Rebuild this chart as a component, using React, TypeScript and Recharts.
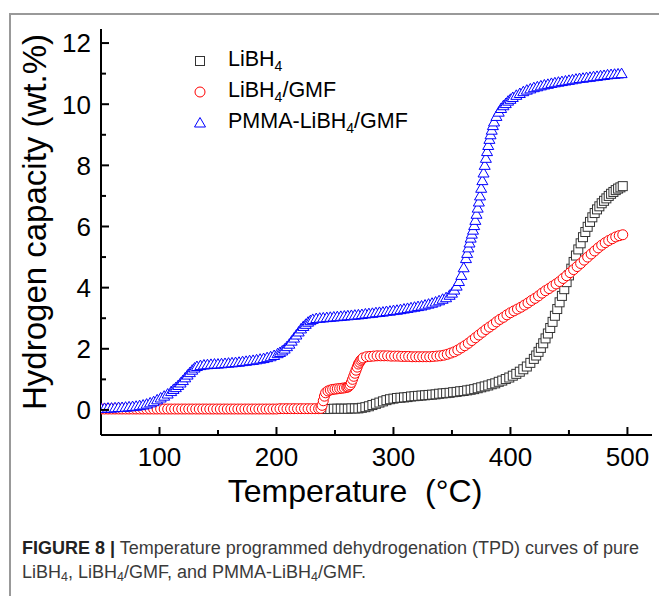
import React from 'react';
import { ScatterChart, Scatter, XAxis, YAxis } from 'recharts';

const FONT = '"Liberation Sans", Arial, Helvetica, sans-serif';

// Axis ticks
const xTicks = [100, 150, 200, 250, 300, 350, 400, 450, 500];
const xLabeled = [100, 200, 300, 400, 500];
const yTicks = [0, 1, 2, 3, 4, 5, 6, 7, 8, 9, 10, 11, 12];
const yLabeled = [0, 2, 4, 6, 8, 10, 12];

// Series names
const seriesNames = ['LiBH4', 'LiBH4/GMF', 'PMMA-LiBH4/GMF'];

// LiBH4 (black squares): [temperature °C, wt.%]
const libhPairs: [number, number][] = [
  [240, 0.03], [243, 0.03], [246, 0.03], [249, 0.04], [252, 0.04], [255, 0.04], [258, 0.04], [261, 0.04],
  [264, 0.05], [267, 0.05], [270, 0.05], [273, 0.07], [276, 0.09], [279, 0.12], [282, 0.16], [285, 0.2],
  [288, 0.24], [291, 0.28], [294, 0.32], [297, 0.35], [300, 0.37], [303, 0.39], [306, 0.4], [309, 0.41],
  [312, 0.42], [315, 0.44], [318, 0.45], [321, 0.46], [324, 0.47], [327, 0.48], [330, 0.49], [333, 0.5],
  [336, 0.51], [339, 0.53], [342, 0.54], [345, 0.55], [348, 0.56], [351, 0.58], [354, 0.59], [357, 0.61],
  [360, 0.62], [363, 0.64], [366, 0.66], [369, 0.68], [372, 0.71], [375, 0.74], [378, 0.77], [381, 0.8],
  [384, 0.84], [387, 0.87], [390, 0.92], [393, 0.96], [396, 1.01], [399, 1.06], [402, 1.12], [405, 1.18],
  [408, 1.25], [411, 1.33], [414, 1.42], [417, 1.54], [420, 1.67], [422, 1.78], [424, 1.9], [426, 2.03],
  [428, 2.18], [430, 2.34], [432, 2.5], [434, 2.68], [436, 2.88], [438, 3.08], [440, 3.3], [442, 3.52],
  [444, 3.73], [446, 3.95], [448, 4.18], [450, 4.4], [452, 4.62], [454, 4.84], [456, 5.05], [458, 5.25],
  [460, 5.45], [462, 5.65], [464, 5.82], [466, 5.99], [468, 6.15], [470, 6.3], [472, 6.44], [474, 6.56],
  [476, 6.66], [478, 6.76], [480, 6.84], [482, 6.92], [484, 7.0], [486, 7.07], [488, 7.13], [490, 7.19],
  [492, 7.24], [494, 7.28], [496, 7.32],
];

// LiBH4/GMF (red circles)
const gmfPairs: [number, number][] = [
  [50, 0.03], [53, 0.03], [56, 0.03], [59, 0.03], [62, 0.03], [65, 0.03], [68, 0.03], [71, 0.03],
  [74, 0.03], [77, 0.03], [80, 0.03], [83, 0.03], [86, 0.03], [89, 0.03], [92, 0.03], [95, 0.03],
  [98, 0.03], [101, 0.03], [104, 0.03], [107, 0.03], [110, 0.03], [113, 0.03], [116, 0.03], [119, 0.03],
  [122, 0.03], [125, 0.03], [128, 0.03], [131, 0.03], [134, 0.03], [137, 0.03], [140, 0.03], [143, 0.03],
  [146, 0.03], [149, 0.03], [152, 0.03], [155, 0.03], [158, 0.03], [161, 0.03], [164, 0.03], [167, 0.03],
  [170, 0.03], [173, 0.03], [176, 0.03], [179, 0.03], [182, 0.03], [185, 0.03], [188, 0.03], [191, 0.03],
  [194, 0.03], [197, 0.03], [200, 0.03], [203, 0.04], [206, 0.04], [209, 0.04], [212, 0.04], [215, 0.04],
  [218, 0.04], [221, 0.04], [224, 0.04], [227, 0.04], [230, 0.04], [233, 0.04], [236, 0.04], [238, 0.05],
  [239, 0.15], [240, 0.3], [241, 0.45], [242, 0.56], [244, 0.62], [246, 0.65], [248, 0.67], [250, 0.68],
  [252, 0.69], [254, 0.7], [256, 0.71], [258, 0.72], [260, 0.74], [261, 0.75], [262, 0.78], [263, 0.82],
  [264, 0.9], [265, 1.0], [266, 1.1], [267, 1.2], [268, 1.3], [269, 1.4], [270, 1.5], [271, 1.56],
  [272, 1.62], [273, 1.66], [274, 1.7], [277, 1.74], [280, 1.75], [283, 1.76], [286, 1.77], [289, 1.77],
  [292, 1.77], [295, 1.77], [298, 1.76], [301, 1.76], [304, 1.76], [307, 1.75], [310, 1.75], [313, 1.75],
  [316, 1.74], [319, 1.74], [322, 1.74], [325, 1.74], [328, 1.74], [331, 1.74], [334, 1.75], [337, 1.76],
  [340, 1.77], [343, 1.79], [346, 1.82], [349, 1.86], [352, 1.9], [355, 1.96], [358, 2.03], [361, 2.1],
  [364, 2.18], [367, 2.27], [370, 2.36], [373, 2.45], [376, 2.54], [379, 2.63], [382, 2.71], [385, 2.79],
  [388, 2.88], [391, 2.96], [394, 3.03], [397, 3.11], [400, 3.18], [403, 3.24], [406, 3.3], [409, 3.36],
  [412, 3.43], [415, 3.5], [418, 3.58], [421, 3.65], [424, 3.73], [427, 3.82], [430, 3.9], [433, 3.97],
  [436, 4.05], [439, 4.12], [442, 4.2], [445, 4.3], [448, 4.39], [451, 4.49], [454, 4.59], [457, 4.69],
  [460, 4.79], [463, 4.9], [466, 5.0], [469, 5.1], [472, 5.2], [475, 5.3], [478, 5.39], [481, 5.47],
  [484, 5.54], [487, 5.6], [490, 5.66], [493, 5.7], [496, 5.73],
];

// PMMA-LiBH4/GMF (blue triangles)
const pmmaPairs: [number, number][] = [
  [50, 0.05], [53, 0.05], [56, 0.06], [59, 0.06], [62, 0.07], [65, 0.08], [68, 0.08], [71, 0.09],
  [74, 0.1], [77, 0.11], [80, 0.12], [83, 0.14], [86, 0.16], [89, 0.19], [92, 0.23], [95, 0.27],
  [98, 0.33], [101, 0.39], [104, 0.45], [107, 0.52], [110, 0.6], [112, 0.67], [114, 0.73], [116, 0.8],
  [118, 0.88], [120, 0.96], [122, 1.05], [124, 1.14], [126, 1.22], [128, 1.3], [130, 1.37], [132, 1.42],
  [135, 1.45], [138, 1.47], [141, 1.48], [144, 1.49], [147, 1.5], [150, 1.5], [153, 1.51], [156, 1.52],
  [159, 1.53], [162, 1.54], [165, 1.55], [168, 1.56], [171, 1.58], [174, 1.59], [177, 1.61], [180, 1.62],
  [183, 1.64], [186, 1.66], [189, 1.68], [192, 1.71], [195, 1.74], [198, 1.78], [201, 1.84], [203, 1.88],
  [205, 1.93], [207, 1.99], [209, 2.07], [211, 2.15], [213, 2.25], [215, 2.35], [217, 2.45], [219, 2.55],
  [221, 2.65], [223, 2.73], [225, 2.8], [227, 2.87], [229, 2.92], [231, 2.96], [234, 2.99], [237, 3.0],
  [240, 3.01], [243, 3.02], [246, 3.03], [249, 3.04], [252, 3.05], [255, 3.06], [258, 3.07], [261, 3.08],
  [264, 3.09], [267, 3.1], [270, 3.11], [273, 3.12], [276, 3.14], [279, 3.15], [282, 3.16], [285, 3.18],
  [288, 3.19], [291, 3.2], [294, 3.22], [297, 3.23], [300, 3.25], [303, 3.26], [306, 3.28], [309, 3.3],
  [312, 3.32], [315, 3.34], [318, 3.36], [321, 3.38], [324, 3.4], [327, 3.43], [330, 3.46], [333, 3.49],
  [336, 3.53], [339, 3.57], [342, 3.62], [345, 3.67], [348, 3.75], [350, 3.82], [352, 3.92], [354, 4.05],
  [356, 4.2], [358, 4.4], [360, 4.65], [362, 4.95], [363, 5.12], [364, 5.3], [365, 5.46], [366, 5.62],
  [367, 5.75], [368, 5.88], [369, 6.03], [370, 6.2], [371, 6.4], [372, 6.6], [373, 6.8], [374, 7.0],
  [375, 7.25], [376, 7.5], [377, 7.75], [378, 8.0], [379, 8.23], [380, 8.45], [381, 8.65], [382, 8.85],
  [383, 9.0], [384, 9.15], [385, 9.3], [386, 9.42], [388, 9.6], [390, 9.74], [392, 9.86], [394, 9.95],
  [396, 10.02], [398, 10.1], [400, 10.16], [402, 10.22], [405, 10.29], [408, 10.35], [411, 10.41], [414, 10.46],
  [417, 10.5], [420, 10.54], [423, 10.57], [426, 10.6], [429, 10.63], [432, 10.65], [435, 10.68], [438, 10.7],
  [441, 10.72], [444, 10.74], [447, 10.76], [450, 10.78], [453, 10.8], [456, 10.82], [459, 10.84], [462, 10.85],
  [465, 10.87], [468, 10.88], [471, 10.9], [474, 10.91], [477, 10.93], [480, 10.94], [483, 10.96], [486, 10.97],
  [489, 10.98], [492, 10.99], [495, 11.0],
];

const toPoints = (pairs: [number, number][]) => pairs.map(([t, v]) => ({ t, v }));
const libhData = toPoints(libhPairs);
const gmfData = toPoints(gmfPairs);
const pmmaData = toPoints(pmmaPairs);

const GRAY = '#333333';
const RED = '#ff0000';
const BLUE = '#0000ff';

const SquareShape = (p: any) => (
  <rect x={p.cx - 4.5} y={p.cy - 4.5} width={9} height={9} fill="#fff" stroke={GRAY} strokeWidth={1} />
);
const CircleShape = (p: any) => (
  <circle cx={p.cx} cy={p.cy} r={5} fill="#fff" stroke={RED} strokeWidth={1} />
);
const TriangleShape = (p: any) => (
  <polygon
    points={`${p.cx},${p.cy - 5.5} ${p.cx + 5.5},${p.cy + 4} ${p.cx - 5.5},${p.cy + 4}`}
    fill="#fff"
    stroke={BLUE}
    strokeWidth={1}
  />
);

const XTick = (props: any) => {
  const { x, y, payload } = props;
  const v = payload.value;
  const major = xLabeled.includes(v);
  return (
    <g>
      <line x1={x} x2={x} y1={y} y2={y - (major ? 8 : 5)} stroke="#000" strokeWidth={2} />
      {major && (
        <text x={x} y={y + 31} textAnchor="middle" fontSize={26} fontFamily={FONT} fill="#000">
          {v}
        </text>
      )}
    </g>
  );
};

const YTick = (props: any) => {
  const { x, y, payload } = props;
  const v = payload.value;
  const major = yLabeled.includes(v);
  return (
    <g>
      <line x1={x} x2={x + (major ? 8 : 5)} y1={y} y2={y} stroke="#000" strokeWidth={2} />
      {major && (
        <text x={x - 10} y={y} dy="0.36em" textAnchor="end" fontSize={26} fontFamily={FONT} fill="#000">
          {v}
        </text>
      )}
    </g>
  );
};

const XTitle = () => (
  <text x={355} y={502} textAnchor="middle" fontSize={32} fontFamily={FONT} fill="#000" style={{ whiteSpace: 'pre' }}>
    {'Temperature  (°C)'}
  </text>
);

const YTitle = () => (
  <text
    x={46}
    y={222}
    transform="rotate(-90 46 222)"
    textAnchor="middle"
    fontSize={33}
    fontFamily={FONT}
    fill="#000"
  >
    Hydrogen capacity (wt.%)
  </text>
);

const Sub = ({ children }: any) => (
  <span style={{ fontSize: 14, position: 'relative', top: 5 }}>{children}</span>
);

const legendIcons = [
  <rect key="s" x={3.5} y={3.5} width={9} height={9} fill="#fff" stroke={GRAY} strokeWidth={1} />,
  <circle key="c" cx={8} cy={8} r={5} fill="#fff" stroke={RED} strokeWidth={1} />,
  <polygon key="t" points="8,2.5 13.5,12 2.5,12" fill="#fff" stroke={BLUE} strokeWidth={1} />,
];

const renderName = (name: string) => {
  const parts = name.split('4');
  return parts.map((p, i) => (
    <React.Fragment key={i}>
      {p}
      {i < parts.length - 1 && <Sub>4</Sub>}
    </React.Fragment>
  ));
};

const CapSub = ({ children }: any) => (
  <span style={{ fontSize: 12.5, position: 'relative', top: 3 }}>{children}</span>
);

export default function App() {
  return (
    <div style={{ position: 'absolute', left: 0, top: 0, width: 659, height: 596, background: '#fff', overflow: 'hidden' }}>
      {/* page frame */}
      <div style={{ position: 'absolute', left: 9, top: 13, width: 650, height: 2, background: '#999' }} />
      <div style={{ position: 'absolute', left: 9, top: 13, width: 2, height: 583, background: '#999' }} />

      <div style={{ position: 'absolute', left: 0, top: 0 }}>
        <ScatterChart width={659} height={596} margin={{ top: 29, right: 7, bottom: 101, left: 41 }}>
          <XAxis
            dataKey="t"
            type="number"
            domain={[50, 521]}
            allowDataOverflow
            ticks={xTicks}
            interval={0}
            tick={<XTick />}
            tickLine={false}
            tickSize={0}
            tickMargin={0}
            height={60}
            axisLine={{ stroke: '#000', strokeWidth: 2 }}
            label={<XTitle />}
          />
          <XAxis
            xAxisId="top"
            orientation="top"
            type="number"
            domain={[50, 521]}
            allowDataOverflow
            tick={false}
            tickLine={false}
            height={0}
            axisLine={{ stroke: '#000', strokeWidth: 2 }}
          />
          <YAxis
            dataKey="v"
            type="number"
            domain={[-0.82, 12.46]}
            allowDataOverflow
            ticks={yTicks}
            interval={0}
            tick={<YTick />}
            tickLine={false}
            tickSize={0}
            tickMargin={0}
            width={60}
            axisLine={{ stroke: '#000', strokeWidth: 2 }}
            label={<YTitle />}
          />
          <YAxis
            yAxisId="right"
            orientation="right"
            type="number"
            domain={[-0.82, 12.46]}
            allowDataOverflow
            tick={false}
            tickLine={false}
            width={0}
            axisLine={{ stroke: '#000', strokeWidth: 2 }}
          />
          <Scatter name={seriesNames[0]} data={libhData} shape={SquareShape} isAnimationActive={false} />
          <Scatter name={seriesNames[1]} data={gmfData} shape={CircleShape} isAnimationActive={false} />
          <Scatter name={seriesNames[2]} data={pmmaData} shape={TriangleShape} isAnimationActive={false} />
        </ScatterChart>
      </div>

      {/* legend */}
      <div style={{ position: 'absolute', left: 192, top: 45, fontFamily: FONT, fontSize: 21.5, color: '#000' }}>
        {seriesNames.map((n, i) => (
          <div key={n} style={{ display: 'flex', alignItems: 'center', height: 31 }}>
            <svg width={16} height={16} style={{ display: 'block' }}>
              {legendIcons[i]}
            </svg>
            <span style={{ marginLeft: 20, lineHeight: '31px', whiteSpace: 'nowrap' }}>{renderName(n)}</span>
          </div>
        ))}
      </div>

      {/* caption */}
      <div style={{ position: 'absolute', left: 22, top: 536, fontFamily: FONT, fontSize: 18, lineHeight: '24px', color: '#3a3a3a', whiteSpace: 'nowrap' }}>
        <div>
          <b style={{ color: '#222' }}>FIGURE 8 |</b> Temperature programmed dehydrogenation (TPD) curves of pure
        </div>
        <div>
          LiBH<CapSub>4</CapSub>, LiBH<CapSub>4</CapSub>/GMF, and PMMA-LiBH<CapSub>4</CapSub>/GMF.
        </div>
      </div>
    </div>
  );
}
